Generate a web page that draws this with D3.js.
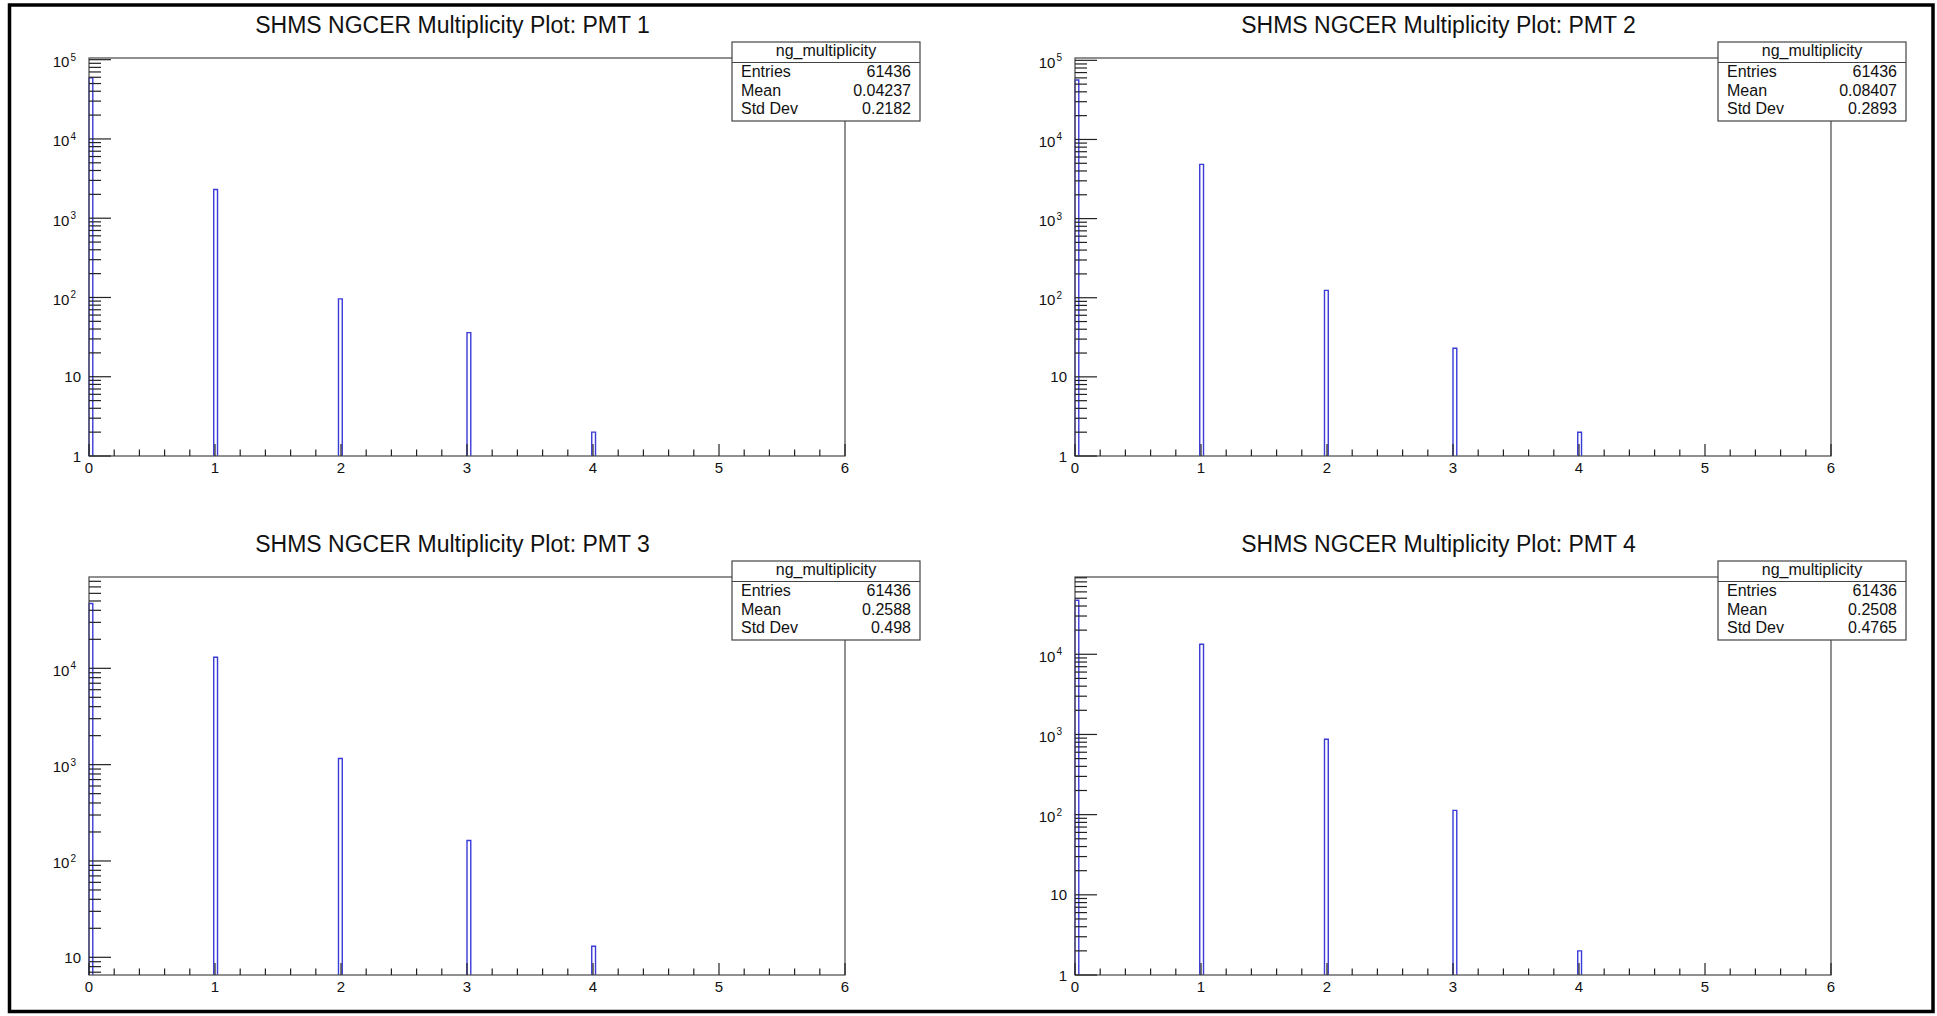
<!DOCTYPE html>
<html>
<head>
<meta charset="utf-8">
<script src="https://cdn.jsdelivr.net/npm/d3@7"></script>
<style>
body { margin: 0; background: #fff; }
text { font-family: "Liberation Sans", Arial, Helvetica, sans-serif; fill: #111; }
</style>
</head>
<body>
<div id="plot"></div>
<script>
var svgWidth = 1937;
var svgHeight = 1016;

// multiplicity values that were filled, and the counts per PMT
var multiplicity = [0, 1, 2, 3, 4];
var pmt1Counts = [59004, 2300, 96, 36, 2];
var pmt2Counts = [56442, 4850, 124, 23, 2];
var pmt3Counts = [47063, 13030, 1160, 163, 13];
var pmt4Counts = [47114, 13350, 870, 113, 2];
var allCounts = [pmt1Counts, pmt2Counts, pmt3Counts, pmt4Counts];

var pmtTitles = [
    "SHMS NGCER Multiplicity Plot: PMT 1",
    "SHMS NGCER Multiplicity Plot: PMT 2",
    "SHMS NGCER Multiplicity Plot: PMT 3",
    "SHMS NGCER Multiplicity Plot: PMT 4"
];
var histName = "ng_multiplicity";
var statsEntries = ["61436", "61436", "61436", "61436"];
var statsMean = ["0.04237", "0.08407", "0.2588", "0.2508"];
var statsStdDev = ["0.2182", "0.2893", "0.498", "0.4765"];

// axis ranges
var xTickValues = [0, 1, 2, 3, 4, 5, 6];
var yMin = [1, 1, 6.55, 1];
var yMax = [1.05e5, 1.07e5, 8.87e4, 9.2e4];
var nBins = 200;
var xLow = 0;
var xHigh = 6;

// frame layout (left/top of each frame)
var frameW = 756;
var frameH = 398;
var frameLeft = [89, 1075, 89, 1075];
var frameTop = [58, 58, 577, 577];

var svg = d3.select("#plot")
    .append("svg")
    .attr("width", svgWidth)
    .attr("height", svgHeight)
    .style("display", "block");

svg.append("rect")
    .attr("width", svgWidth)
    .attr("height", svgHeight)
    .attr("fill", "#fff");

var binWidth = (xHigh - xLow) / nBins;

allCounts.forEach(function (counts, p) {
    var g = svg.append("g")
        .attr("transform", `translate(${frameLeft[p]}, ${frameTop[p]})`);

    var x = d3.scaleLinear().domain([xLow, xHigh]).range([0, frameW]);
    var y = d3.scaleLog().domain([yMin[p], yMax[p]]).range([frameH, 0]);

    // title
    g.append("text")
        .attr("x", 363.5)
        .attr("y", -25)
        .attr("text-anchor", "middle")
        .attr("font-size", "23px")
        .text(pmtTitles[p]);

    // histogram outline, one step per filled bin
    var bins = multiplicity.map(function (m, i) {
        var lo = Math.floor(m * nBins / (xHigh - xLow) + 1e-9) * binWidth;
        return { lo: lo, hi: lo + binWidth, n: counts[i] };
    });
    g.append("g").selectAll("path")
        .data(bins)
        .enter()
        .append("path")
        .attr("d", d => `M${x(d.lo)},${frameH}V${y(d.n)}H${x(d.hi)}V${frameH}`)
        .attr("fill", "none")
        .attr("stroke", "#3a3ad8")
        .attr("stroke-width", 1.4);

    // frame
    g.append("rect")
        .attr("width", frameW)
        .attr("height", frameH)
        .attr("fill", "none")
        .attr("stroke", "#555")
        .attr("stroke-width", 1.3);

    // x ticks: majors at integers, minors every 0.2
    var xMinor = d3.range(0, 31).map(i => i * 0.2);
    g.append("g").selectAll("line")
        .data(xMinor)
        .enter()
        .append("line")
        .attr("x1", d => x(d))
        .attr("x2", d => x(d))
        .attr("y1", frameH)
        .attr("y2", (d, i) => frameH - (i % 5 === 0 ? 12 : 6.5))
        .attr("stroke", "#222")
        .attr("stroke-width", 1.2);

    g.append("g").selectAll("text")
        .data(xTickValues)
        .enter()
        .append("text")
        .attr("x", d => x(d))
        .attr("y", frameH + 17)
        .attr("text-anchor", "middle")
        .attr("font-size", "15px")
        .text(d => d);

    // y log ticks
    var yTicks = [];
    var dLow = Math.floor(Math.log10(yMin[p]));
    var dHigh = Math.ceil(Math.log10(yMax[p]));
    for (var d = dLow; d <= dHigh; d++) {
        for (var m = 1; m <= 9; m++) {
            var v = m * Math.pow(10, d);
            if (v >= yMin[p] * 0.999 && v <= yMax[p]) {
                yTicks.push({ v: v, major: m === 1, dec: d });
            }
        }
    }
    g.append("g").selectAll("line")
        .data(yTicks)
        .enter()
        .append("line")
        .attr("x1", 0)
        .attr("x2", t => t.major ? 22 : 12)
        .attr("y1", t => y(t.v))
        .attr("y2", t => y(t.v))
        .attr("stroke", "#222")
        .attr("stroke-width", 1.2);

    var yLabels = g.append("g").selectAll("text")
        .data(yTicks.filter(t => t.major))
        .enter()
        .append("text")
        .attr("text-anchor", "end")
        .attr("font-size", "15px");

    yLabels.each(function (t) {
        var label = d3.select(this);
        if (t.dec <= 1) {
            label.attr("x", -8)
                .attr("y", y(t.v) + 5.5)
                .text(t.dec === 0 ? "1" : "10");
        } else {
            label.attr("x", -13)
                .attr("y", y(t.v) + 7.5)
                .text("10");
            label.append("tspan")
                .attr("dx", 1)
                .attr("dy", -6.5)
                .attr("font-size", "10px")
                .text(t.dec);
        }
    });

    // stats box
    var sb = g.append("g")
        .attr("transform", "translate(643, -16)");
    sb.append("rect")
        .attr("width", 188)
        .attr("height", 79)
        .attr("fill", "#fff")
        .attr("stroke", "#444")
        .attr("stroke-width", 1.2);
    sb.append("line")
        .attr("x1", 0)
        .attr("x2", 188)
        .attr("y1", 20.5)
        .attr("y2", 20.5)
        .attr("stroke", "#444")
        .attr("stroke-width", 1.2);
    sb.append("text")
        .attr("x", 94)
        .attr("y", 14)
        .attr("text-anchor", "middle")
        .attr("font-size", "16px")
        .text(histName);

    var rows = [
        ["Entries", statsEntries[p]],
        ["Mean", statsMean[p]],
        ["Std Dev", statsStdDev[p]]
    ];
    rows.forEach(function (r, i) {
        sb.append("text")
            .attr("x", 9)
            .attr("y", 35 + i * 18.5)
            .attr("font-size", "16px")
            .text(r[0]);
        sb.append("text")
            .attr("x", 179)
            .attr("y", 35 + i * 18.5)
            .attr("text-anchor", "end")
            .attr("font-size", "16px")
            .text(r[1]);
    });
});

// outer canvas border
svg.append("rect")
    .attr("x", 9.5)
    .attr("y", 5)
    .attr("width", 1923.5)
    .attr("height", 1006.5)
    .attr("fill", "none")
    .attr("stroke", "#000")
    .attr("stroke-width", 3.5);
</script>
</body>
</html>
